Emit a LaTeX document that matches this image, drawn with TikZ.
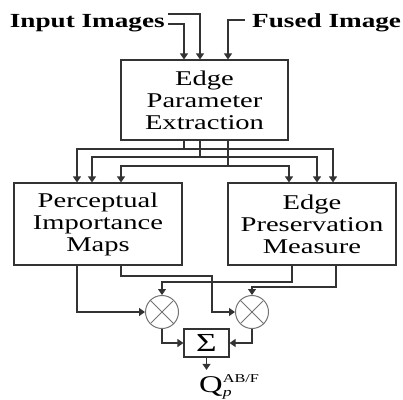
\documentclass[tikz,border=0pt]{standalone}
\usepackage{fontspec}
\setmainfont{Liberation Serif}[FakeStretch=1.36]
\usetikzlibrary{arrows.meta}

\begin{document}
\begin{tikzpicture}[x=1pt,y=-1pt]
\tikzset{
  blk/.style={draw=black!80,line width=1.1pt,align=center,inner sep=0pt,
    font=\fontsize{21}{22}\selectfont},
  lbl/.style={inner sep=0pt,font=\bfseries\fontsize{20}{20}\selectfont},
  mul/.style={circle,draw=black!55,line width=1pt,minimum size=33pt,inner sep=0pt},
  xmark/.style={draw=black!55,line width=1pt,shorten <=1.5pt,shorten >=1.5pt},
  wire/.style={draw=black!80,line width=1.1pt},
  arr/.style={wire,-{Triangle[length=6pt,width=8pt]}},
}
\useasboundingbox (0,0) rectangle (403,399);

%% labels
\node[lbl,inner xsep=3pt,anchor=base east] (inimg) at (168,27) {Input Images};
\node[lbl,inner xsep=7pt,anchor=base west] (fusimg) at (245,27) {Fused Image};

%% blocks
\node[blk,minimum width=167pt,minimum height=80pt] (epe) at (204.5,100) {Edge\\Parameter\\Extraction};
\node[blk,minimum width=168pt,minimum height=82pt] (pim) at (98,224) {Perceptual\\Importance\\Maps};
\node[blk,minimum width=168pt,minimum height=82pt] (epm) at (312,224) {Edge\\Preservation\\Measure};

%% multipliers and sum
\node[mul] (m1) at (162,312) {};
\node[mul] (m2) at (252,312) {};
\foreach \m in {m1,m2}
  \draw[xmark] (\m.north west) -- (\m.south east) (\m.north east) -- (\m.south west);
\node[blk,minimum width=45pt,minimum height=28pt,font=\fontsize{26}{26}\selectfont] (sum) at (206.5,343) {Σ};
\node[inner sep=4pt,anchor=base west,font=\fontsize{24}{24}\selectfont] (q) at (195,392)
  {Q\rlap{\raisebox{10pt}{\fontsize{12}{12}\selectfont AB/F}}\raisebox{-4pt}{\fontsize{13}{13}\selectfont\itshape p}};

%% inputs
\draw[arr] (inimg.east |- 0,14) -| (epe.north -| 200,0);
\draw[arr] (inimg.east |- 0,24) -| (epe.north -| 184,0);
\draw[arr] (fusimg.west |- 0,20) -| (epe.north -| 228,0);

%% fan out
\draw[arr] (epe.south -| 184,0) |- (77,149) -- (pim.north -| 77,0);
\draw[arr] (epe.south -| 184,0) |- (333,149) -- (epm.north -| 333,0);
\draw[arr] (epe.south -| 200,0) |- (92,157) -- (pim.north -| 92,0);
\draw[arr] (epe.south -| 200,0) |- (317,157) -- (epm.north -| 317,0);
\draw[arr] (epe.south -| 228,0) |- (121,166) -- (pim.north -| 121,0);
\draw[arr] (epe.south -| 228,0) |- (289,166) -- (epm.north -| 289,0);

%% products
\draw[arr] (pim.south -| 77,0) |- (m1.west);
\draw[arr] (pim.south -| 121,0) |- (212,276) |- (m2.west);
\draw[arr] (epm.south -| 292,0) |- (162,282) -- (m1.north);
\draw[arr] (epm.south -| 336,0) |- (252,287) -- (m2.north);

%% sum
\draw[arr] (m1.south) |- (sum.west);
\draw[arr] (m2.south) |- (sum.east);
\draw[arr] (sum.south) -- (sum.south |- q.north);
\end{tikzpicture}
\end{document}
